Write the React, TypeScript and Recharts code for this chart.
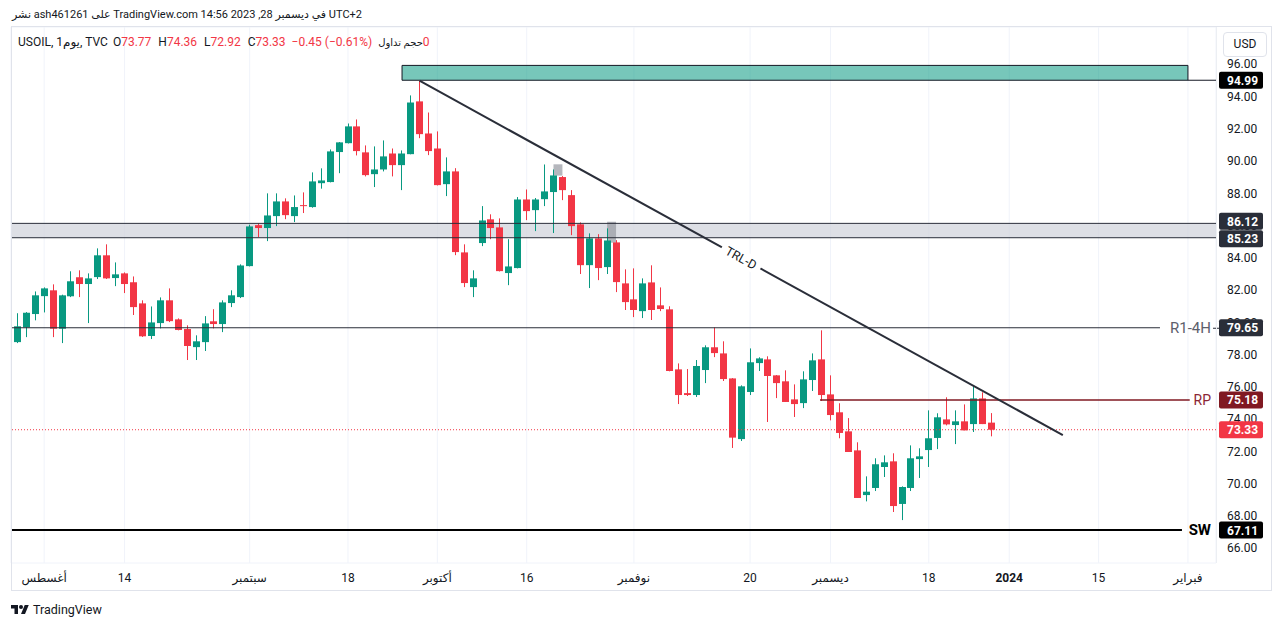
import React from 'react';
import {
  ComposedChart,
  Bar,
  XAxis,
  YAxis,
  CartesianGrid,
  ReferenceLine,
  ReferenceArea,
  ReferenceDot,
} from 'recharts';

// ---------- DATA (daily candles, USOIL, Jul 26 2023 -> Dec 28 2023) ----------
const opens = [
  79.24, 78.76, 79.67, 80.5, 81.61, 81.97, 79.59, 81.6, 82.78, 82.36,
  82.79, 84.14, 82.73, 83.02, 82.47, 81.16, 79.14, 79.94, 81.35, 80.17,
  79.57, 78.45, 78.76, 80.05, 79.88, 81.18, 81.55, 83.47, 86.01, 85.83,
  86.57, 87.48, 86.57, 87.25, 87.13, 88.61, 88.68, 90.54, 91.09, 92.13,
  90.52, 89.17, 89.46, 90.45, 89.73, 90.41, 93.68, 91.69, 90.76, 88.55,
  89.34, 84.32, 82.17, 84.9, 86.37, 85.87, 83.04, 83.35, 87.6, 86.94,
  87.62, 88.06, 88.99, 87.87, 86.06, 83.53, 85.19, 83.41, 84.94, 82.4,
  81.41, 80.68, 82.46, 81.04, 80.79, 77.07, 75.6, 75.48, 77.03, 78.44,
  78.06, 76.51, 72.75, 75.67, 77.46, 77.69, 76.7, 76.33, 75.21, 74.98,
  76.41, 77.69, 75.52, 74.41, 73.23, 72.05, 69.28, 69.72, 71.02, 71.37,
  68.73, 69.72, 71.51, 72.07, 72.82, 73.97, 73.62, 73.85, 73.68, 75.27,
  73.77,
];
const highs = [
  79.45, 80.55, 80.62, 81.9, 82.15, 82.34, 81.7, 83.15, 83.21, 83.02,
  84.57, 84.82, 83.7, 83.08, 82.83, 81.35, 80.97, 81.53, 82.09, 80.23,
  79.8, 79.18, 80.37, 80.8, 81.35, 81.97, 83.58, 86.04, 86.12, 87.98,
  87.98, 87.67, 87.85, 88.04, 89.28, 89.53, 90.7, 91.16, 92.31, 92.56,
  90.95, 90.89, 91.26, 90.76, 90.64, 94.05, 94.96, 92.99, 91.82, 90.21,
  89.54, 84.82, 83.21, 87.19, 86.68, 86.43, 85.14, 87.75, 88.22, 87.69,
  89.77, 89.46, 89.05, 88.18, 86.18, 85.5, 85.45, 85.81, 85.08, 83.27,
  83.33, 82.71, 83.52, 82.15, 80.98, 77.44, 77.09, 77.65, 78.56, 79.67,
  78.81, 76.53, 76.08, 78.37, 77.82, 77.88, 76.72, 77.01, 76.14, 76.95,
  78.06, 79.49, 76.7, 74.97, 74.05, 72.55, 70.44, 71.56, 71.74, 71.87,
  69.82, 72.36, 72.18, 74.53, 74.35, 75.34, 74.53, 74.9, 76.08, 75.65,
  74.36,
];
const lows = [
  78.65, 78.7, 79.07, 80.11, 80.6, 79.07, 78.7, 81.55, 81.55, 79.94,
  82.67, 82.67, 82.23, 81.8, 80.44, 79.08, 78.95, 79.61, 80.0, 79.49,
  77.65, 77.65, 78.21, 79.61, 79.38, 80.93, 81.49, 83.45, 85.27, 85.02,
  85.95, 86.38, 86.2, 86.76, 87.09, 88.27, 88.66, 89.23, 91.07, 90.33,
  89.03, 88.37, 89.34, 89.03, 88.18, 90.4, 91.4, 90.35, 88.47, 87.81,
  84.15, 82.17, 81.55, 84.71, 85.14, 83.14, 82.29, 83.33, 86.32, 85.64,
  87.19, 85.52, 87.56, 85.39, 82.98, 82.11, 82.6, 82.98, 81.86, 80.75,
  80.31, 80.25, 80.13, 80.68, 76.95, 74.92, 75.42, 75.36, 76.22, 77.83,
  76.35, 72.2, 72.63, 75.48, 76.97, 73.81, 75.29, 75.05, 74.12, 74.67,
  75.73, 75.11, 73.91, 72.8, 71.95, 69.1, 68.89, 69.53, 70.4, 68.23,
  67.73, 69.53, 70.34, 71.02, 72.13, 73.6, 72.44, 73.29, 73.19, 73.68,
  72.92,
];
const closes = [
  78.81, 79.74, 80.58, 81.66, 82.09, 79.59, 81.66, 82.53, 82.36, 82.71,
  84.14, 82.71, 82.96, 82.36, 80.93, 79.12, 79.98, 81.35, 80.06, 79.51,
  78.52, 78.81, 79.92, 79.88, 81.22, 81.66, 83.51, 85.93, 85.83, 86.61,
  87.48, 86.63, 87.13, 87.2, 88.72, 88.78, 90.58, 91.14, 92.13, 90.6,
  89.11, 89.46, 90.27, 89.73, 90.45, 93.61, 91.65, 90.6, 88.49, 89.34,
  84.34, 82.42, 82.71, 86.3, 85.83, 83.16, 83.45, 87.6, 86.88, 87.6,
  88.1, 89.09, 88.18, 85.95, 83.53, 85.19, 83.35, 85.06, 82.48, 81.24,
  80.75, 82.4, 80.75, 80.81, 76.97, 75.48, 75.48, 77.28, 78.44, 78.08,
  76.47, 72.84, 76.02, 77.51, 77.75, 76.66, 76.22, 75.05, 74.92, 76.45,
  77.63, 75.48, 74.24, 73.13, 71.95, 69.1, 69.49, 71.19, 71.31, 68.6,
  69.78, 71.56, 71.68, 72.8, 74.1, 73.66, 73.85, 73.29, 75.27, 73.68,
  73.33,
];

const xTickIndex = [4, 13, 27, 38, 48, 58, 70, 83, 92, 103, 112, 122, 132];
const xTickLabels = [
  'أغسطس', '14', 'سبتمبر', '18', 'أكتوبر', '16', 'نوفمبر', '20', 'ديسمبر', '18', '2024', '15', 'فبراير',
];
const priceTicks = [66, 68, 70, 72, 74, 76, 78, 80, 82, 84, 86, 88, 90, 92, 94, 96];

// drawings (in data units: bar index / price)
const X_MIN = 0.29;
const X_MAX = 135.14;
const Y_MIN = 65.07;
const Y_MAX = 98.29;
const supplyZone = { x1: 44.05, x2: 132.0, y1: 94.99, y2: 95.91 };
const bandZone = { y1: 85.23, y2: 86.12 };
const trend = { x1: 46, y1: 94.96, x2: 118, y2: 73.0, labelX: 82 };
const r1Line = { y: 79.65, xEnd: 128.87 };
const rpLine = { y: 75.18, xStart: 90.82, xEnd: 132.2 };
const swLine = { y: 67.11, xEnd: 131.33 };
const lastPrice = 73.33;
const markers = [
  { x1: 61, x2: 62, y1: 89.08, y2: 89.78 },
  { x1: 67, x2: 68, y1: 84.92, y2: 86.22 },
];
const priceTags = [
  { price: 94.99, text: '94.99', bg: '#000000', dy: 0 },
  { price: 86.12, text: '86.12', bg: '#2a2e39', dy: -2 },
  { price: 85.23, text: '85.23', bg: '#2a2e39', dy: 1 },
  { price: 79.65, text: '79.65', bg: '#2a2e39', dy: 0, side: 'R1-4H', sideColor: '#5d606b', sideWeight: 400, sideSize: 15, joint: true },
  { price: 75.18, text: '75.18', bg: '#801922', dy: 0, side: 'RP', sideColor: '#8b2635', sideWeight: 400, sideSize: 14 },
  { price: 73.33, text: '73.33', bg: '#f23645', dy: 0 },
  { price: 67.11, text: '67.11', bg: '#000000', dy: 0, side: 'SW', sideColor: '#000000', sideWeight: 700, sideSize: 15 },
];

const data = opens.map((o, i) => ({
  i,
  o,
  h: highs[i],
  l: lows[i],
  c: closes[i],
  range: [lows[i], highs[i]],
}));

const GREEN = '#089981';
const RED = '#f23645';
const FONT = "Roboto, 'DejaVu Sans', 'Noto Sans', sans-serif";

const Candle = (props: any) => {
  let { x, y, width, height, payload } = props;
  if (height < 0) {
    y += height;
    height = -height;
  }
  const { o, h, l, c } = payload;
  const up = c >= o;
  const color = up ? GREEN : RED;
  const ppu = height / (h - l || 1);
  const yOf = (p: number) => y + (h - p) * ppu;
  const r = Math.round(x + width / 2 - 0.5);
  const top = yOf(Math.max(o, c));
  const bot = yOf(Math.min(o, c));
  return (
    <g>
      <line x1={r + 0.5} x2={r + 0.5} y1={y} y2={y + height} stroke={color} strokeWidth={1} />
      <rect x={r - 3} y={top} width={7} height={Math.max(bot - top, 1)} fill={color} />
    </g>
  );
};

const makeTag = (t: any) => (props: any) => {
  const { cx, cy } = props;
  const yc = cy + t.dy;
  return (
    <g>
      {t.side ? (
        <text
          x={cx - 5}
          y={cy + 5}
          textAnchor="end"
          fontSize={t.sideSize}
          fontWeight={t.sideWeight}
          fill={t.sideColor}
          fontFamily={FONT}
        >
          {t.side}
        </text>
      ) : null}
      {t.joint ? <line x1={cx - 3} x2={cx + 3} y1={cy + 0.5} y2={cy + 0.5} stroke="#2a2e39" /> : null}
      <rect x={cx + 3} y={yc - 8.5} width={44} height={17} rx={2} fill={t.bg} />
      <text x={cx + 11} y={yc + 4.5} fontSize={12} fontWeight={700} fill="#ffffff" fontFamily={FONT}>
        {t.text}
      </text>
    </g>
  );
};

const PriceTickLabel = (props: any) => {
  const { cx, cy, value } = props;
  return (
    <text x={cx + 11} y={cy + 4.5} fontSize={12} fill="#131722" fontFamily={FONT}>
      {Number(value).toFixed(2)}
    </text>
  );
};

const TrendLabel = (props: any) => {
  const { cx, cy } = props;
  return (
    <g transform={`translate(${cx},${cy}) rotate(28.8)`}>
      <rect x={-22} y={-8} width={44} height={16} fill="#ffffff" />
      <text x={0} y={4.5} textAnchor="middle" fontSize={12.5} fill="#131722" fontFamily={FONT}>
        TRL-D
      </text>
    </g>
  );
};

const XTick = (props: any) => {
  const { x, payload } = props;
  const idx = xTickIndex.indexOf(payload.value);
  const label = idx >= 0 ? xTickLabels[idx] : '';
  return (
    <text
      x={x}
      y={582}
      textAnchor="middle"
      fontSize={12}
      fontWeight={label === '2024' ? 700 : 400}
      fill="#131722"
      fontFamily={FONT}
    >
      {label}
    </text>
  );
};

const line = (style: React.CSSProperties) => (
  <div style={{ position: 'absolute', background: '#e0e3eb', ...style }} />
);

export default function App() {
  return (
    <div
      style={{
        position: 'absolute',
        left: 0,
        top: 0,
        width: 1281,
        height: 627,
        background: '#ffffff',
        overflow: 'hidden',
        fontFamily: FONT,
      }}
    >
      <ComposedChart
        width={1281}
        height={627}
        data={data}
        margin={{ top: 27, right: 9, bottom: 36, left: 11 }}
      >
        <CartesianGrid stroke="#f0f3fa" strokeWidth={1} />
        <XAxis
          dataKey="i"
          type="number"
          domain={[X_MIN, X_MAX]}
          allowDataOverflow
          ticks={xTickIndex}
          interval={0}
          height={28}
          axisLine={false}
          tickLine={false}
          tick={<XTick />}
        />
        <YAxis
          orientation="right"
          type="number"
          domain={[Y_MIN, Y_MAX]}
          allowDataOverflow
          ticks={priceTicks}
          interval={0}
          width={56}
          axisLine={false}
          tickLine={false}
          tick={false}
        />
        <ReferenceArea
          x1={X_MIN}
          x2={X_MAX}
          y1={bandZone.y1}
          y2={bandZone.y2}
          fill="#d1d4dc"
          fillOpacity={0.75}
          stroke="none"
          ifOverflow="visible"
        />
        <ReferenceLine y={bandZone.y2} stroke="#2a2e39" strokeWidth={1} />
        <ReferenceLine y={bandZone.y1} stroke="#2a2e39" strokeWidth={1} />
        <ReferenceArea
          x1={supplyZone.x1}
          x2={supplyZone.x2}
          y1={supplyZone.y1}
          y2={supplyZone.y2}
          fill={GREEN}
          fillOpacity={0.55}
          stroke="#131722"
          strokeWidth={1}
          ifOverflow="visible"
        />
        <ReferenceLine
          segment={[
            { x: supplyZone.x2, y: supplyZone.y1 },
            { x: X_MAX, y: supplyZone.y1 },
          ]}
          stroke="#131722"
          strokeWidth={1}
          ifOverflow="visible"
        />
        <ReferenceLine
          segment={[
            { x: X_MIN, y: r1Line.y },
            { x: r1Line.xEnd, y: r1Line.y },
          ]}
          stroke="#2a2e39"
          strokeWidth={1}
          ifOverflow="visible"
        />
        <ReferenceLine
          segment={[
            { x: rpLine.xStart, y: rpLine.y },
            { x: rpLine.xEnd, y: rpLine.y },
          ]}
          stroke="#801922"
          strokeWidth={1.5}
          ifOverflow="visible"
        />
        <ReferenceLine
          segment={[
            { x: X_MIN, y: swLine.y },
            { x: swLine.xEnd, y: swLine.y },
          ]}
          stroke="#000000"
          strokeWidth={2}
          ifOverflow="visible"
        />
        <ReferenceLine y={lastPrice} stroke={RED} strokeDasharray="1 2" strokeWidth={1} />
        <Bar dataKey="range" barSize={7} shape={<Candle />} isAnimationActive={false} />
        {markers.map((m, k) => (
          <ReferenceArea
            key={'m' + k}
            x1={m.x1}
            x2={m.x2}
            y1={m.y1}
            y2={m.y2}
            fill="#9598a1"
            fillOpacity={0.7}
            stroke="none"
            ifOverflow="visible"
          />
        ))}
        <ReferenceLine
          segment={[
            { x: trend.x1, y: trend.y1 },
            { x: trend.x2, y: trend.y2 },
          ]}
          stroke="#2a2e39"
          strokeWidth={2}
          ifOverflow="visible"
        />
        <ReferenceDot
          x={trend.labelX}
          y={trend.y1 + ((trend.labelX - trend.x1) / (trend.x2 - trend.x1)) * (trend.y2 - trend.y1)}
          r={0}
          shape={<TrendLabel />}
          ifOverflow="visible"
        />
        {priceTicks.map((v) => (
          <ReferenceDot
            key={'pt' + v}
            x={X_MAX}
            y={v}
            r={0}
            shape={(p: any) => <PriceTickLabel {...p} value={v} />}
            ifOverflow="visible"
          />
        ))}
        {priceTags.map((t) => {
          const Shape = makeTag(t);
          return (
            <ReferenceDot
              key={t.text}
              x={X_MAX}
              y={t.price}
              r={0}
              shape={(p: any) => <Shape {...p} />}
              ifOverflow="visible"
            />
          );
        })}
      </ComposedChart>

      {/* frame */}
      {line({ left: 11, top: 26, width: 1261, height: 1 })}
      {line({ left: 11, top: 26, width: 1, height: 565 })}
      {line({ left: 1271, top: 26, width: 1, height: 565 })}
      {line({ left: 11, top: 590, width: 1261, height: 1 })}
      {line({ left: 1216, top: 27, width: 1, height: 536, background: '#eceff3' })}

      {/* header */}
      <div
        style={{
          position: 'absolute',
          left: 12,
          top: 8,
          fontSize: 11,
          color: '#131722',
          whiteSpace: 'nowrap',
          direction: 'ltr',
        }}
      >
        نشر ash461261 على TradingView.com في ديسمبر 28, 2023 14:56 UTC+2
      </div>

      {/* legend */}
      <div
        style={{
          position: 'absolute',
          left: 18,
          top: 35,
          fontSize: 12,
          color: '#131722',
          whiteSpace: 'nowrap',
          direction: 'ltr',
        }}
      >
        <span>USOIL, 1يوم, TVC</span>
        <span style={{ marginLeft: 5 }}>O</span>
        <span style={{ color: RED }}>73.77</span>
        <span style={{ marginLeft: 7 }}>H</span>
        <span style={{ color: RED }}>74.36</span>
        <span style={{ marginLeft: 7 }}>L</span>
        <span style={{ color: RED }}>72.92</span>
        <span style={{ marginLeft: 7 }}>C</span>
        <span style={{ color: RED }}>73.33</span>
        <span style={{ color: RED, marginLeft: 6 }}>−0.45 (−0.61%)</span>
        <span style={{ marginLeft: 6, unicodeBidi: 'isolate', direction: 'rtl', fontSize: 10, color: '#131722' }}>
          حجم تداول
        </span>
        <span style={{ color: RED }}>0</span>
      </div>

      {/* currency box */}
      <div
        style={{
          position: 'absolute',
          left: 1223,
          top: 32,
          width: 42,
          height: 23,
          border: '1px solid #e0e3eb',
          borderRadius: 4,
          fontSize: 12,
          lineHeight: '23px',
          textAlign: 'center',
          color: '#131722',
          background: '#ffffff',
        }}
      >
        USD
      </div>

      {/* TradingView logo */}
      <div style={{ position: 'absolute', left: 11, top: 602, display: 'flex', alignItems: 'center' }}>
        <svg width={18} height={14} viewBox="0 0 36 28">
          <path d="M14 22H7V11H0V4h14v18zM28 22h-8l7.5-18h8L28 22z" fill="#131722" />
          <circle cx="20" cy="8" r="4" fill="#131722" />
        </svg>
        <span style={{ marginLeft: 4, fontSize: 12.5, color: '#131722' }}>TradingView</span>
      </div>
    </div>
  );
}
